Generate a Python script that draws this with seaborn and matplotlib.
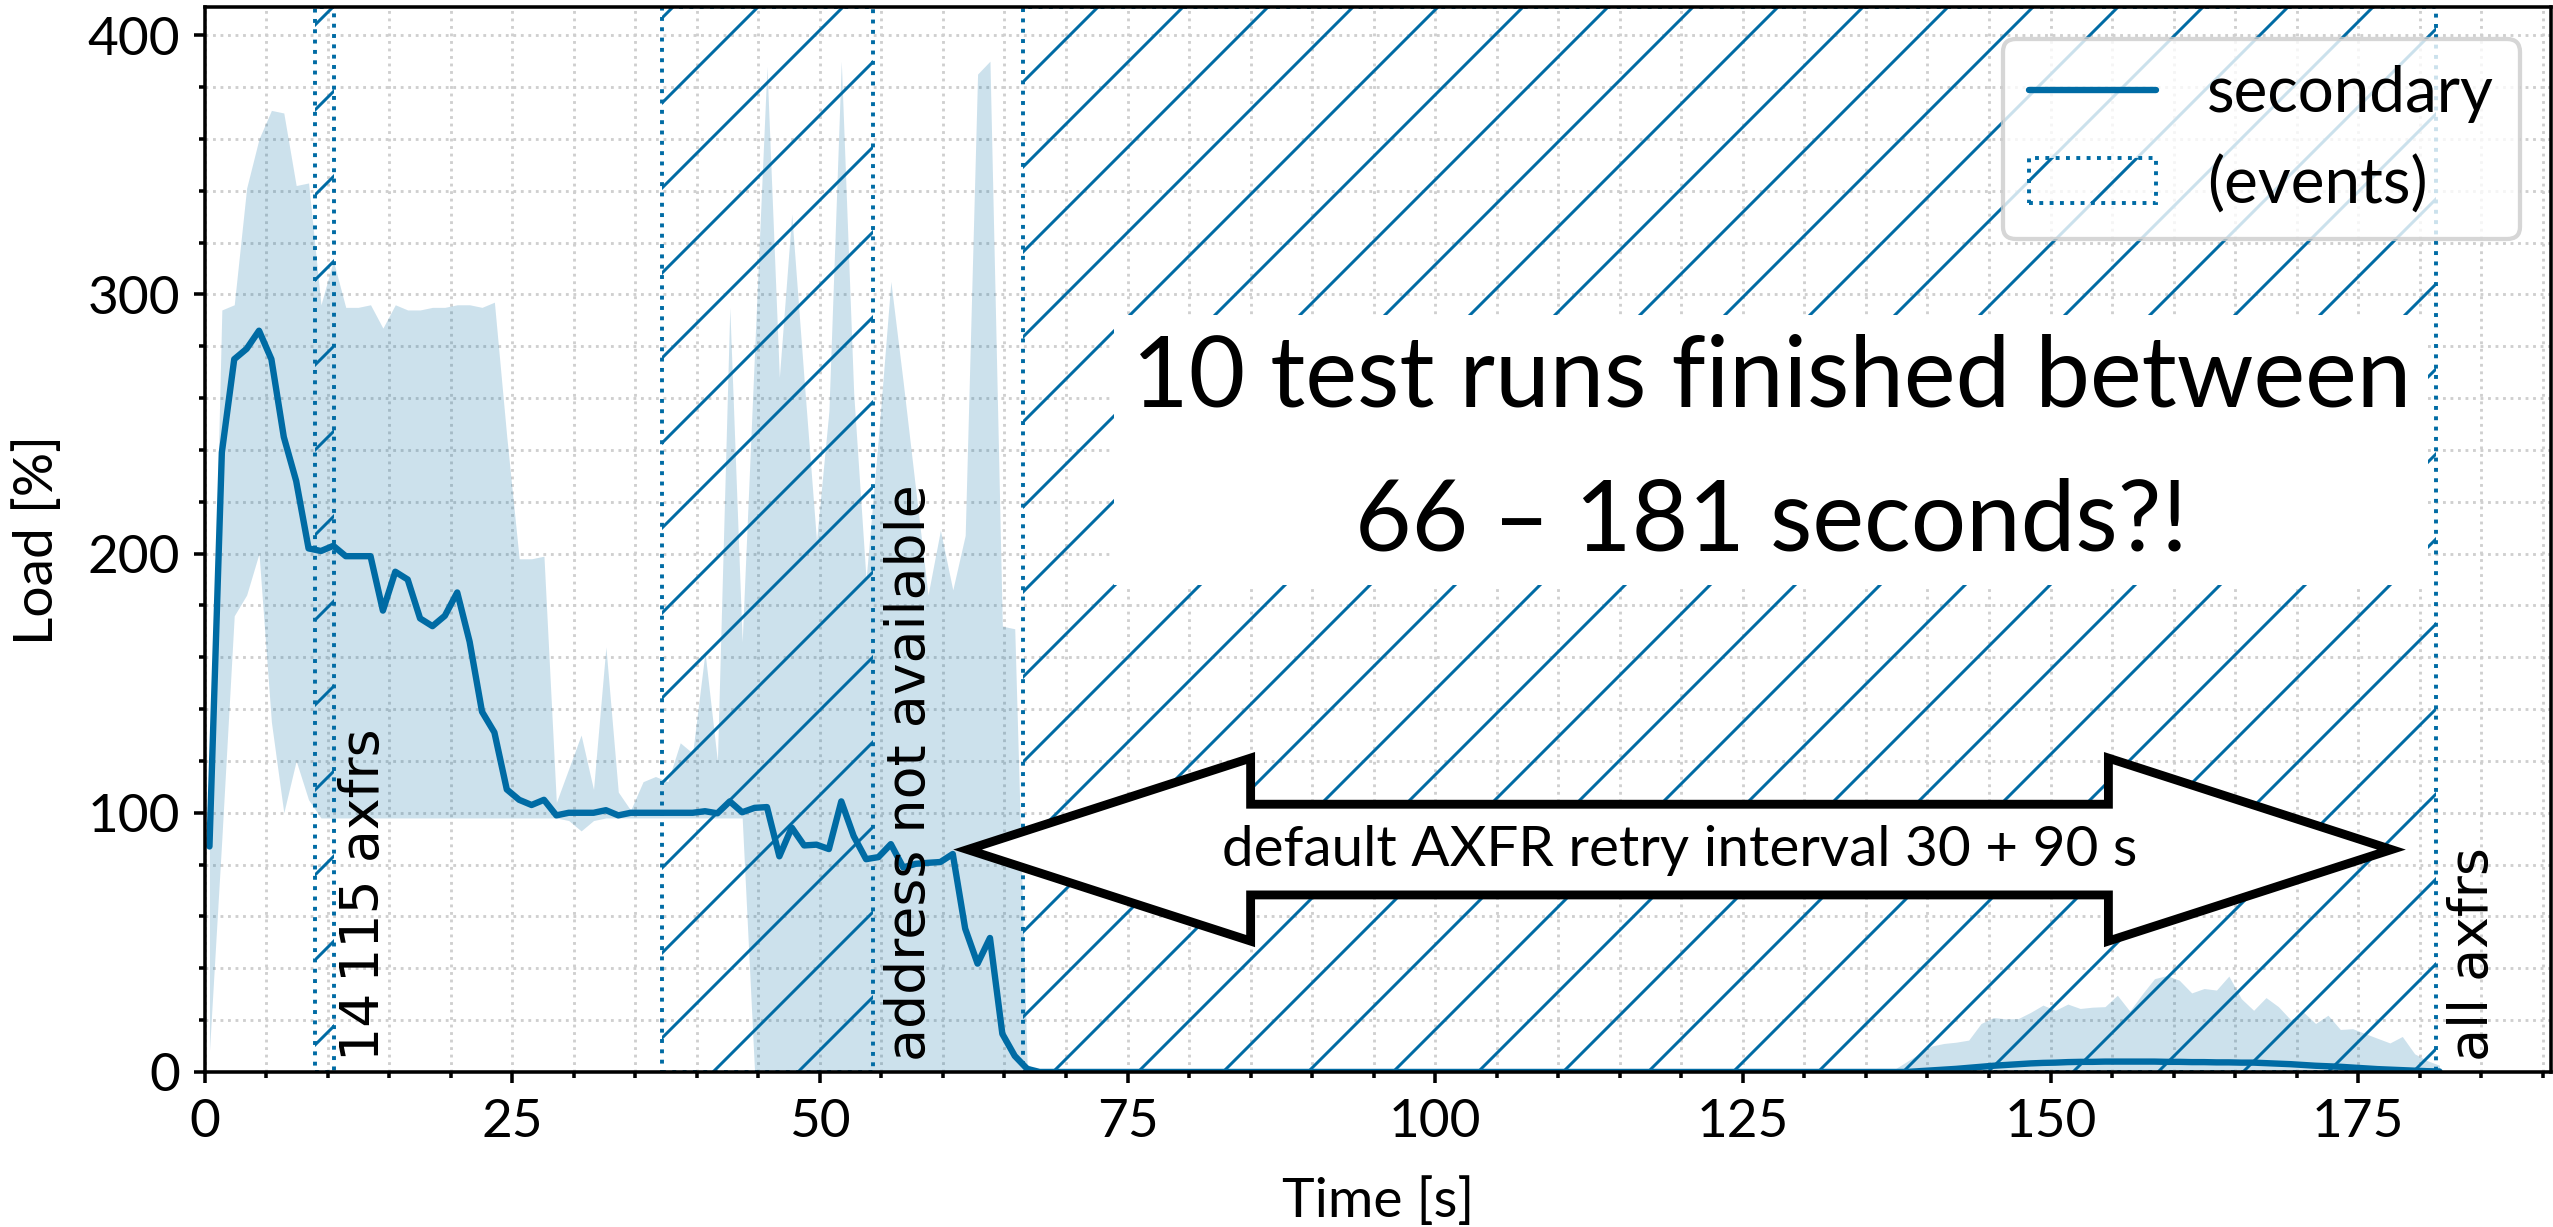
import numpy as np
import matplotlib
matplotlib.use("Agg")
import matplotlib.pyplot as plt
from matplotlib.ticker import MultipleLocator
from matplotlib.patches import Polygon
import seaborn as sns

# ---------------- data ----------------
sample_start_s = 0.4
sample_end_s = 181.6

load_mean = [
    87, 239, 275, 279, 286, 275, 245, 228, 202, 201,
    203, 199, 199, 199, 178, 193, 190, 175, 172, 176,
    185, 166, 139, 131, 109, 105, 103, 105, 99, 100,
    100, 100, 101, 99, 100, 100, 100, 100, 100, 100,
    100.6, 99.8, 104.4, 100.2, 101.9, 102.2, 83.2, 94.3, 87.4, 87.7,
    86.0, 104.4, 91.0, 82.1, 82.9, 87.9, 78.9, 80.3, 80.7, 81.0,
    84.1, 55.3, 41.8, 51.7, 14.7, 6.2, 1.2, 0, 0, 0,
    0, 0, 0, 0, 0, 0, 0, 0, 0, 0,
    0, 0, 0, 0, 0, 0, 0, 0, 0, 0,
    0, 0, 0, 0, 0, 0, 0, 0, 0, 0,
    0, 0, 0, 0, 0, 0, 0, 0, 0, 0,
    0, 0, 0, 0, 0, 0, 0, 0, 0, 0,
    0, 0, 0, 0, 0, 0, 0, 0, 0, 0,
    0, 0, 0, 0, 0, 0, 0, 0, 0.3, 0.6,
    0.9, 1.2, 1.6, 2.0, 2.4, 2.7, 3.0, 3.3, 3.5, 3.6,
    3.8, 3.9, 3.9, 4.0, 4.0, 4.0, 4.0, 4.0, 3.9, 3.9,
    3.8, 3.8, 3.7, 3.7, 3.6, 3.6, 3.4, 3.2, 3.0, 2.7,
    2.4, 2.2, 2.0, 1.7, 1.4, 1.1, 0.9, 0.7, 0.5, 0.3,
    0.2,
]

load_upper = [
    95, 294, 296, 341, 360, 371, 370, 342, 343, 296,
    313, 295, 295, 296, 287, 296, 294, 294, 295, 295,
    296, 296, 295, 297, 245, 198, 198, 199, 104, 117,
    130, 109, 164, 108, 101, 112, 114, 112, 127, 123,
    162, 120, 295, 166, 278, 388, 268, 331, 267, 205,
    255, 390, 262, 190, 245, 305, 266, 225, 184, 209,
    186, 207, 385, 390, 172, 171, 3, 0, 0, 0,
    0, 0, 0, 0, 0, 0, 0, 0, 0, 0,
    0, 0, 0, 0, 0, 0, 0, 0, 0, 0,
    0, 0, 0, 0, 0, 0, 0, 0, 0, 0,
    0, 0, 0, 0, 0, 0, 0, 0, 0, 0,
    0, 0, 0, 0, 0, 0, 0, 0, 0, 0,
    0, 0, 0, 0, 0, 0, 0, 0, 0, 0,
    0, 0, 0, 0, 0, 0, 1, 4, 7, 10,
    11, 11.5, 12.3, 18.7, 21, 20.5, 20.6, 23, 25.8, 23.8,
    26.2, 24.5, 25, 25.2, 29.6, 23.5, 30, 36, 37.2, 35.4,
    30.5, 32.2, 31.6, 37, 28.3, 23.8, 28.7, 25.2, 20.1, 23.2,
    18.7, 21.9, 16.4, 16.7, 14.8, 13, 11.2, 13.7, 7, 4.4,
    2.6,
]

load_lower = [
    8, 90, 176, 184, 200, 135, 100, 120, 105, 98,
    98, 98, 98, 98, 98, 98, 98, 98, 98, 98,
    98, 98, 98, 98, 98, 98, 98, 98, 98, 97,
    93, 97, 98, 98, 98, 98, 98, 98, 98, 98,
    98, 98, 98, 98, 0, 0, 0, 0, 0, 0,
    0, 0, 0, 0, 0, 0, 0, 0, 0, 0,
    0, 0, 0, 0, 0, 0, 0, 0, 0, 0,
    0, 0, 0, 0, 0, 0, 0, 0, 0, 0,
    0, 0, 0, 0, 0, 0, 0, 0, 0, 0,
    0, 0, 0, 0, 0, 0, 0, 0, 0, 0,
    0, 0, 0, 0, 0, 0, 0, 0, 0, 0,
    0, 0, 0, 0, 0, 0, 0, 0, 0, 0,
    0, 0, 0, 0, 0, 0, 0, 0, 0, 0,
    0, 0, 0, 0, 0, 0, 0, 0, 0, 0,
    0, 0, 0, 0, 0, 0, 0, 0, 0, 0,
    0, 0, 0, 0, 0, 0, 0, 0, 0, 0,
    0, 0, 0, 0, 0, 0, 0, 0, 0, 0,
    0, 0, 0, 0, 0, 0, 0, 0, 0, 0,
    0,
]

time_s = np.linspace(sample_start_s, sample_end_s, len(load_mean))

event_start_s = [9.0, 37.2, 66.5]
event_end_s = [10.5, 54.3, 181.3]
event_labels = ["14\u2009115 axfrs", "address not available", "all axfrs"]
event_label_offset_s = [0.3, 0.9, 0.9]

x_ticks = [0, 25, 50, 75, 100, 125, 150, 175]
y_ticks = [0, 100, 200, 300, 400]

summary_text = "10 test runs finished between\n66 – 181 seconds?!"
arrow_text = "default AXFR retry interval 30 + 90 s"
arrow_from_s, arrow_to_s, arrow_level = 62.0, 177.7, 85.8

# ---------------- style ----------------
C0 = "#006BA4"
sns.set_theme(style="ticks")
plt.rcParams.update({
    "axes.linewidth": 0.5,
    "xtick.major.size": 1.6, "ytick.major.size": 1.6,
    "xtick.minor.size": 0.8, "ytick.minor.size": 0.8,
    "xtick.major.width": 0.5, "ytick.major.width": 0.5,
    "xtick.minor.width": 0.5, "ytick.minor.width": 0.5,
    "xtick.major.pad": 2.2, "ytick.major.pad": 1.8,
    "xtick.labelsize": 7.5, "ytick.labelsize": 7.5,
    "axes.labelsize": 7.8,
    "hatch.linewidth": 0.42,
    "hatch.color": C0,
    "text.color": "black", "axes.labelcolor": "black",
    "xtick.color": "black", "ytick.color": "black",
    "axes.edgecolor": "black",
})
plt.rcParams["font.family"] = ["Lato", "DejaVu Sans"]

DPI = 510
fig = plt.figure(figsize=(2553.5 / DPI, 1227.5 / DPI), dpi=DPI)
ax = fig.add_axes([0.0801, 0.1263, 0.9191, 0.8672])

# band and mean line
ax.fill_between(time_s, load_lower, load_upper, color=C0, alpha=0.2,
                linewidth=0, zorder=1)
sns.lineplot(x=time_s, y=load_mean, ax=ax, color=C0, linewidth=0.9,
             label="secondary", zorder=2.5)

# event spans
span_handle = None
for i, (s, e) in enumerate(zip(event_start_s, event_end_s)):
    sp = ax.axvspan(s, e, facecolor="none", edgecolor=C0, hatch="//",
                    linestyle=":", linewidth=0.55, zorder=1.2,
                    label="(events)" if i == 0 else None)
    if i == 0:
        span_handle = sp
    ax.text(e + event_label_offset_s[i], 4.5, event_labels[i], rotation=90,
            ha="left", va="bottom", fontsize=7.6, family=["DejaVu Sans"],
            zorder=3)

# axes
ax.set_xlim(0, 190.7)
ax.set_ylim(0, 410.7)
ax.set_xticks(x_ticks)
ax.set_yticks(y_ticks)
ax.xaxis.set_minor_locator(MultipleLocator(5))
ax.yaxis.set_minor_locator(MultipleLocator(20))
ax.grid(which="both", linestyle=":", color="#cfcfcf", linewidth=0.4)
ax.set_xlabel("Time [s]")
ax.set_ylabel("Load [%]")
ax.xaxis.set_label_coords(0.5, -0.097)
ax.yaxis.set_label_coords(-0.0607, 0.5)
for sp_name in ["top", "right", "left", "bottom"]:
    ax.spines[sp_name].set_visible(True)
    ax.spines[sp_name].set_linewidth(0.5)

# summary text
ax.text(127.3, 240.0, summary_text, ha="center", va="center",
        multialignment="center", fontsize=13.8, linespacing=1.75,
        bbox=dict(boxstyle="square,pad=0.18", facecolor="white",
                  edgecolor="none"), zorder=3)

# double arrow
head_len, head_half, body_half = 23.0, 35.3, 17.5
x0, x1, y = arrow_from_s, arrow_to_s, arrow_level
arrow_pts = [
    (x0, y), (x0 + head_len, y + head_half), (x0 + head_len, y + body_half),
    (x1 - head_len, y + body_half), (x1 - head_len, y + head_half), (x1, y),
    (x1 - head_len, y - head_half), (x1 - head_len, y - body_half),
    (x0 + head_len, y - body_half), (x0 + head_len, y - head_half),
]
ax.add_patch(Polygon(arrow_pts, closed=True, facecolor="white",
                     edgecolor="black", linewidth=1.25, joinstyle="miter",
                     zorder=4))
ax.text((x0 + x1) / 2, y, arrow_text, ha="center", va="center",
        fontsize=8.0, zorder=5)

# legend
line_handle = ax.get_lines()[0]
leg = ax.legend(handles=[line_handle, span_handle],
                labels=["secondary", "(events)"], loc="upper right",
                fontsize=9.0, frameon=True, fancybox=True, framealpha=0.8,
                edgecolor="#cccccc")
leg.get_frame().set_linewidth(0.6)
leg.set_zorder(6)

fig.savefig("out.png", dpi=DPI)
